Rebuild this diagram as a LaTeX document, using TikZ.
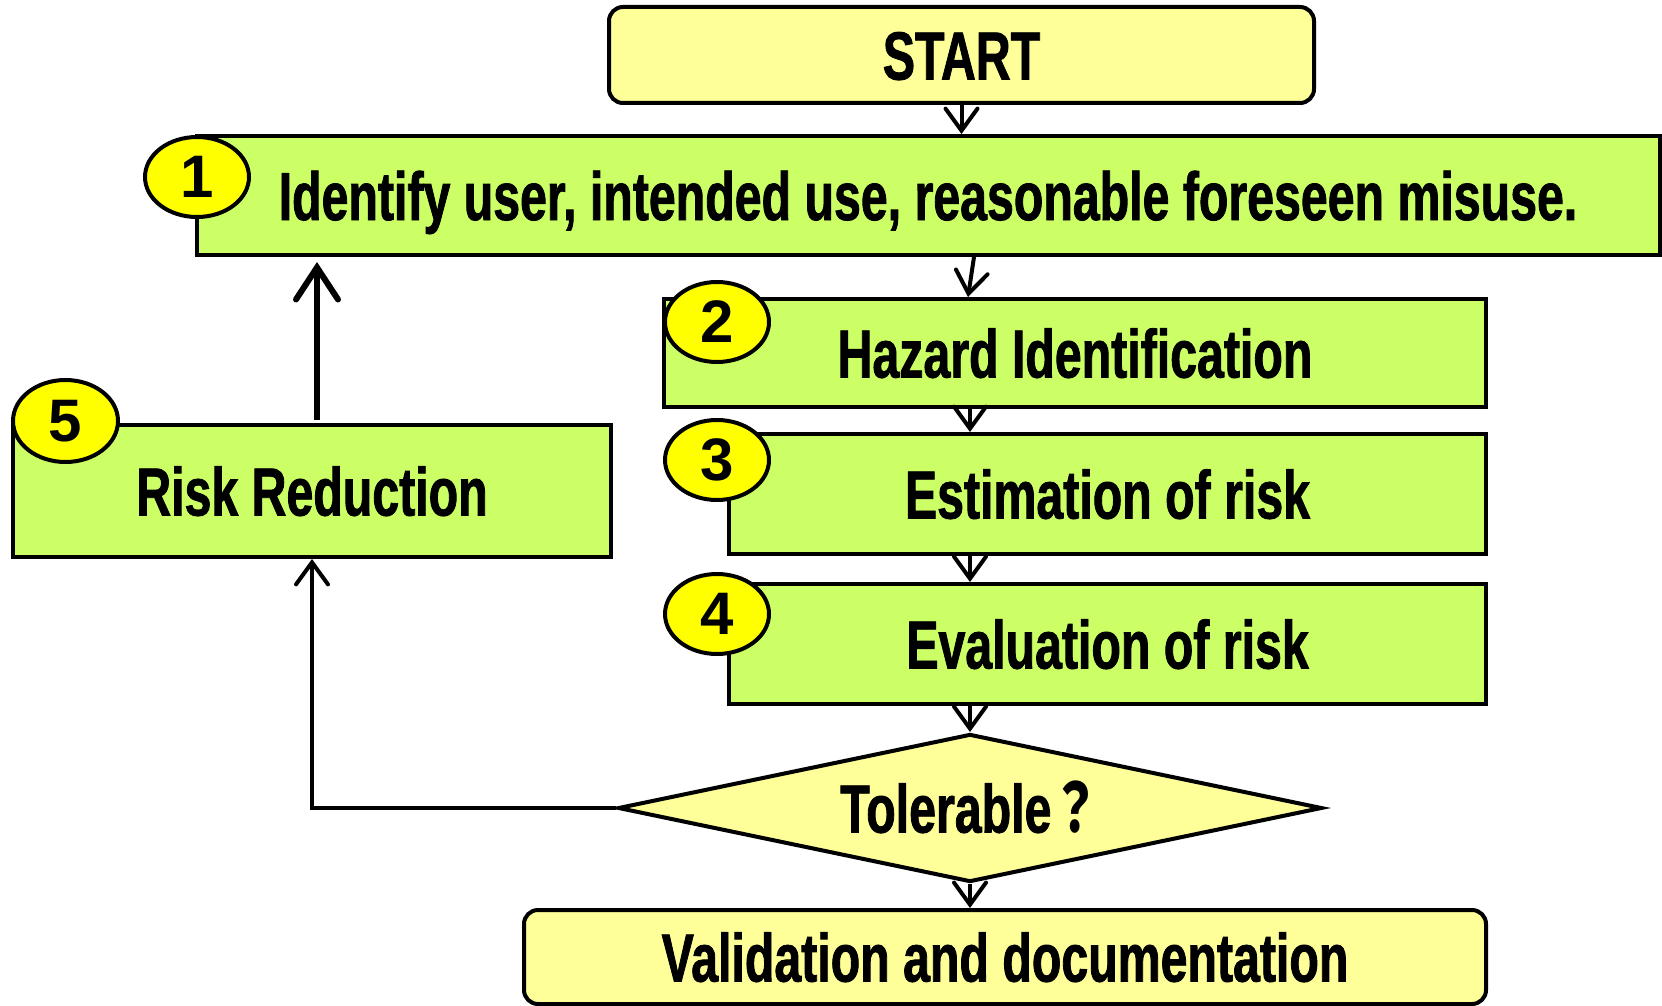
\documentclass[tikz,border=0pt]{standalone}
\usepackage{fontspec}
\setmainfont{Liberation Sans}
\newfontfamily\cond[FakeStretch=0.71,FakeBold=1.2]{Liberation Sans}
\newfontfamily\cjk[FakeStretch=0.71]{Noto Sans CJK JP}
\usetikzlibrary{shapes.geometric,arrows.meta}
\definecolor{boxgreen}{HTML}{CCFF66}
\definecolor{paleyellow}{HTML}{FFFF99}
\definecolor{numyellow}{HTML}{FFFF00}
\begin{document}
\begin{tikzpicture}[x=1pt,y=-1pt,
  txt/.style={font=\cond\bfseries\fontsize{68}{72}\selectfont,text height=49pt,text depth=0pt},
  greenbox/.style={draw,rectangle,fill=boxgreen,line width=4pt,inner sep=0pt,txt},
  yellowbox/.style={draw,rectangle,rounded corners=14pt,fill=paleyellow,line width=4pt,inner sep=0pt,txt},
  numbadge/.style={draw,ellipse,fill=numyellow,line width=4pt,inner sep=0pt,minimum width=104pt,minimum height=80pt,font=\bfseries\fontsize{60}{62}\selectfont},
  arr/.style={line width=4pt,-{Straight Barb[length=22pt,width=32pt,line cap=round]}},
  bigarr/.style={line width=6pt,-{Straight Barb[length=32pt,width=42pt,line cap=round]}}
]
\useasboundingbox (0,0) rectangle (1662,1006);

\node[yellowbox,minimum width=705pt,minimum height=96pt] (start) at (961.5,55) {START};
\node[greenbox,minimum width=1463pt,minimum height=119pt] (b1) at (928,195.5) {Identify user, intended use, reasonable foreseen misuse.};
\node[greenbox,minimum width=822pt,minimum height=108pt] (b2) at (1075,353) {Hazard Identification};
\node[greenbox,minimum width=757pt,minimum height=120pt] (b3) at (1107.5,494) {Estimation of risk};
\node[greenbox,minimum width=757pt,minimum height=120pt] (b4) at (1107.5,644) {Evaluation of risk};
\node[greenbox,minimum width=598pt,minimum height=132pt] (b5) at (312,491) {Risk Reduction};
\node[draw,diamond,shape aspect=4.76,fill=paleyellow,line width=4pt,inner sep=0pt,minimum width=704pt,minimum height=148pt,txt] (tol) at (970,808) {Tolerable{\cjk\bfseries ？}};
\node[yellowbox,minimum width=962pt,minimum height=94pt] (val) at (1005,957) {Validation and documentation};

\node[numbadge] (c1) at (197,177) {1};
\node[numbadge] (c2) at (717,322) {2};
\node[numbadge] (c3) at (717,460) {3};
\node[numbadge] (c4) at (717,614) {4};
\node[numbadge,minimum width=105pt,minimum height=82pt] (c5) at (65.5,421) {5};

\draw[arr] (start.south) -- (start.south |- b1.north);
\draw[arr] ([xshift=46pt]b1.south) -- ([xshift=-107pt]b2.north);
\draw[arr] ([xshift=-105pt]b2.south) -- ([xshift=-137.5pt]b3.north);
\draw[arr] ([xshift=-137.5pt]b3.south) -- ([xshift=-137.5pt]b4.north);
\draw[arr] ([xshift=-137.5pt]b4.south) -- (tol.north);
\draw[arr] (tol.south) -- ([xshift=-35pt]val.north);
\draw[arr] (tol.west) -| (b5.south);
\draw[bigarr,shorten <=3pt,shorten >=5pt] ([xshift=5pt]b5.north) -- ([xshift=5pt]b5.north |- b1.south);
\end{tikzpicture}
\end{document}
